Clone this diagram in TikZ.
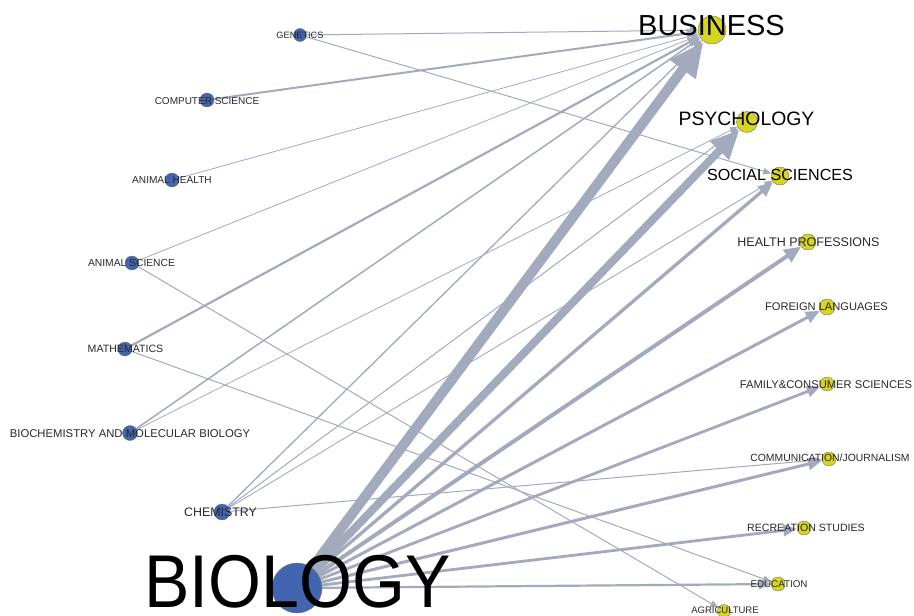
\documentclass[tikz,border=0pt]{standalone}
\usepackage{fontspec}
\setmainfont{Liberation Sans}
\usetikzlibrary{arrows.meta}
\definecolor{edgec}{RGB}{164,170,190}
\definecolor{bnode}{RGB}{67,101,176}
\definecolor{ynode}{RGB}{214,214,32}
\definecolor{labc}{RGB}{40,40,40}
\pgfdeclarelayer{bg}
\pgfsetlayers{bg,main}
\begin{document}
\begin{tikzpicture}[x=1pt,y=-1pt,
  bn/.style={circle,fill=bnode,draw=black!55,line width=0.4pt,inner sep=0pt,minimum size=#1},
  yn/.style={circle,fill=ynode,draw=black!55,line width=0.4pt,inner sep=0pt,minimum size=#1},
  lab/.style={anchor=base,inner sep=0pt,text=labc,font=\fontsize{#1}{#1}\selectfont},
  big/.style={anchor=base,inner sep=0pt,text=black,font=\fontsize{#1}{#1}\selectfont},
  ed/.style={draw=edgec,line width=#1,-{Triangle[length=5pt 3,width=4pt 2.6]}},
]
\useasboundingbox (0,0) rectangle (914,616);
% source nodes
\node[bn=13] (gen) at (300,35) {};
\node[bn=14] (cs) at (207,100) {};
\node[bn=14] (ah) at (172,180) {};
\node[bn=14] (as) at (132,263) {};
\node[bn=14] (math) at (125,349) {};
\node[bn=15] (bc) at (130,433) {};
\node[bn=16] (chem) at (222,512) {};
\node[bn=50] (bio) at (297,588) {};
% target nodes
\node[yn=28] (bus) at (712,30) {};
\node[yn=21] (psy) at (747,122) {};
\node[yn=18] (soc) at (780,176) {};
\node[yn=16] (hp) at (808,242) {};
\node[yn=16] (fl) at (827,307) {};
\node[yn=14] (fcs) at (827,384) {};
\node[yn=14] (cj) at (829,459) {};
\node[yn=14] (rs) at (804,528) {};
\node[yn=14] (edu) at (778,584) {};
\node[yn=13] (agr) at (724,611) {};
% labels
\node[lab=9.2] (genL) at (300,38) {GENETICS};
\node[lab=10] (csL) at (207,104) {COMPUTER SCIENCE};
\node[lab=10.1] (ahL) at (172,183) {ANIMAL HEALTH};
\node[lab=10.3] (asL) at (131.5,266.5) {ANIMAL SCIENCE};
\node[lab=10.6] (mathL) at (125.5,352.5) {MATHEMATICS};
\node[lab=11.3] (bcL) at (130,437) {BIOCHEMISTRY AND MOLECULAR BIOLOGY};
\node[lab=12.4] (chemL) at (220.5,516) {CHEMISTRY};
\node[big=68] (bioL) at (297.5,607) {\scalebox{1}[1.1]{BIOLOGY}};
\node[big=29] (busL) at (711.5,35) {BUSINESS};
\node[big=19.4] (psyL) at (746.5,125) {PSYCHOLOGY};
\node[big=16.1] (socL) at (780,180) {SOCIAL SCIENCES};
\node[lab=12.5] (hpL) at (808.5,246) {HEALTH PROFESSIONS};
\node[lab=11.1] (flL) at (826.5,310) {FOREIGN LANGUAGES};
\node[lab=11.2] (fcsL) at (826,388) {FAMILY\&CONSUMER SCIENCES};
\node[lab=10.4] (cjL) at (830,461) {COMMUNICATION/JOURNALISM};
\node[lab=10.6] (rsL) at (806,531) {RECREATION STUDIES};
\node[lab=9.8] (eduL) at (779,587) {EDUCATION};
\node[lab=9.5] (agrL) at (725,613) {AGRICULTURE};
% edges
\begin{pgfonlayer}{bg}
\draw[ed=1] (gen) -- (bus);
\draw[ed=1] (gen) -- (soc);
\draw[ed=2] (cs) -- (bus);
\draw[ed=0.8] (ah) -- (bus);
\draw[ed=0.8] (as) -- (bus);
\draw[ed=1] (as) -- (agr);
\draw[ed=2.2] (math) -- (bus);
\draw[ed=1] (math) -- (edu);
\draw[ed=1.5] (bc) -- (bus);
\draw[ed=0.8] (bc) -- (psy);
\draw[ed=1.3] (chem) -- (bus);
\draw[ed=1] (chem) -- (psy);
\draw[ed=0.9] (chem) -- (soc);
\draw[ed=1] (chem) -- (cj);
\draw[ed=10] (bio) -- (bus);
\draw[ed=8] (bio) -- (psy);
\draw[ed=3.3] (bio) -- (soc);
\draw[ed=4] (bio) -- (hp);
\draw[ed=3] (bio) -- (fl);
\draw[ed=2.8] (bio) -- (fcs);
\draw[ed=3] (bio) -- (cj);
\draw[ed=2.8] (bio) -- (rs);
\draw[ed=2.2] (bio) -- (edu);
\end{pgfonlayer}
\end{tikzpicture}
\end{document}
